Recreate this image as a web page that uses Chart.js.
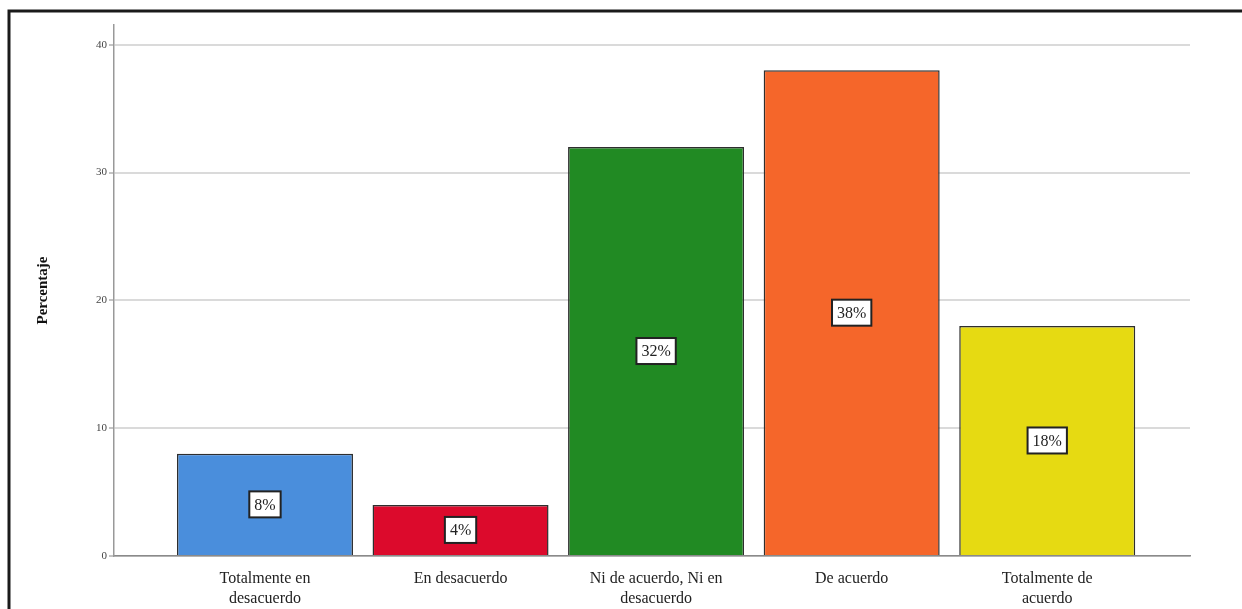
<!DOCTYPE html>
<html>
<head>
<meta charset="utf-8">
<script src="https://cdn.jsdelivr.net/npm/chart.js@4/dist/chart.umd.min.js"></script>
<style>
  html, body { margin: 0; padding: 0; background: #fff; }
  #wrap { width: 1242px; height: 609px; position: relative; }
</style>
</head>
<body>
<div id="wrap"><canvas id="barChart" width="1242" height="609"></canvas></div>
<script>
// Chart data
const categories = [
  ["Totalmente en", "desacuerdo"],
  "En desacuerdo",
  ["Ni de acuerdo, Ni en", "desacuerdo"],
  "De acuerdo",
  ["Totalmente de", "acuerdo"],
];
const percentages = [8, 4, 32, 38, 18];
const barColors = ["#4A8EDC", "#DC0A2C", "#218A23", "#F5662A", "#E6DA12"];
const yTicks = [0, 10, 20, 30, 40];

// white frame + outer black border like the original picture
const framePlugin = {
  id: "frame",
  beforeDraw(chart) {
    const ctx = chart.ctx;
    ctx.save();
    ctx.fillStyle = "#fff";
    ctx.fillRect(0, 0, chart.width, chart.height);
    ctx.strokeStyle = "#1a1a1a";
    ctx.lineWidth = 3;
    ctx.beginPath();
    ctx.moveTo(9, chart.height + 5);
    ctx.lineTo(9, 11);
    ctx.lineTo(chart.width + 5, 11);
    ctx.stroke();
    ctx.restore();
  },
};

// percentage labels in white boxes in the middle of each bar
const boxLabels = {
  id: "boxLabels",
  afterDatasetsDraw(chart) {
    const ctx = chart.ctx;
    const meta = chart.getDatasetMeta(0);
    ctx.save();
    ctx.font = "16px 'Liberation Serif'";
    ctx.textAlign = "center";
    ctx.textBaseline = "middle";
    meta.data.forEach((bar, i) => {
      const txt = percentages[i] + "%";
      const cx = bar.x;
      const cy = (bar.y + bar.base) / 2;
      const w = ctx.measureText(txt).width + 10;
      const h = 26;
      ctx.fillStyle = "#fff";
      ctx.fillRect(cx - w / 2, cy - h / 2, w, h);
      ctx.strokeStyle = "#222";
      ctx.lineWidth = 2;
      ctx.strokeRect(cx - w / 2, cy - h / 2, w, h);
      ctx.fillStyle = "#222";
      ctx.fillText(txt, cx, cy + 1);
    });
    ctx.restore();
  },
};

const ctx = document.getElementById("barChart").getContext("2d");
new Chart(ctx, {
  type: "bar",
  data: {
    datasets: [
      {
        data: percentages.map((v, i) => ({ x: i, y: v })),
        backgroundColor: barColors,
        borderColor: "#2e2e2e",
        borderWidth: 1.5,
        barPercentage: 0.9,
        categoryPercentage: 1,
      },
    ],
  },
  options: {
    responsive: false,
    animation: false,
    layout: { padding: { left: 0, right: 52, top: 25, bottom: 0 } },
    plugins: {
      legend: { display: false },
      tooltip: { enabled: false },
    },
    scales: {
      x: {
        type: "linear",
        offset: false,
        min: -0.772,
        max: 4.73,
        afterBuildTicks: (scale) => {
          scale.ticks = categories.map((c, i) => ({ value: i }));
        },
        afterFit: (scale) => {
          scale.height = 53;
        },
        grid: { display: false },
        border: { display: true, color: "#8a8a8a", width: 1.5 },
        ticks: {
          autoSkip: false,
          maxRotation: 0,
          padding: 5,
          color: "#222",
          font: { family: "'Liberation Serif'", size: 16, lineHeight: 1.25 },
          callback: (v) => categories[v],
        },
      },
      y: {
        min: 0,
        max: 41.55,
        afterBuildTicks: (scale) => {
          scale.ticks = yTicks.map((v) => ({ value: v }));
        },
        afterFit: (scale) => {
          scale.width = 114;
        },
        grid: {
          color: "#dadada",
          lineWidth: 2,
          tickColor: "#888",
          tickLength: 5,
          tickWidth: 1,
        },
        border: { display: true, color: "#999", width: 1.5 },
        ticks: {
          padding: 2,
          color: "#444",
          font: { family: "'Liberation Serif'", size: 11 },
        },
        title: {
          display: true,
          text: "Percentaje",
          color: "#111",
          padding: { top: 34 },
          font: { family: "'Liberation Serif'", size: 15, weight: "bold" },
        },
      },
    },
  },
  plugins: [framePlugin, boxLabels],
});
</script>
</body>
</html>
